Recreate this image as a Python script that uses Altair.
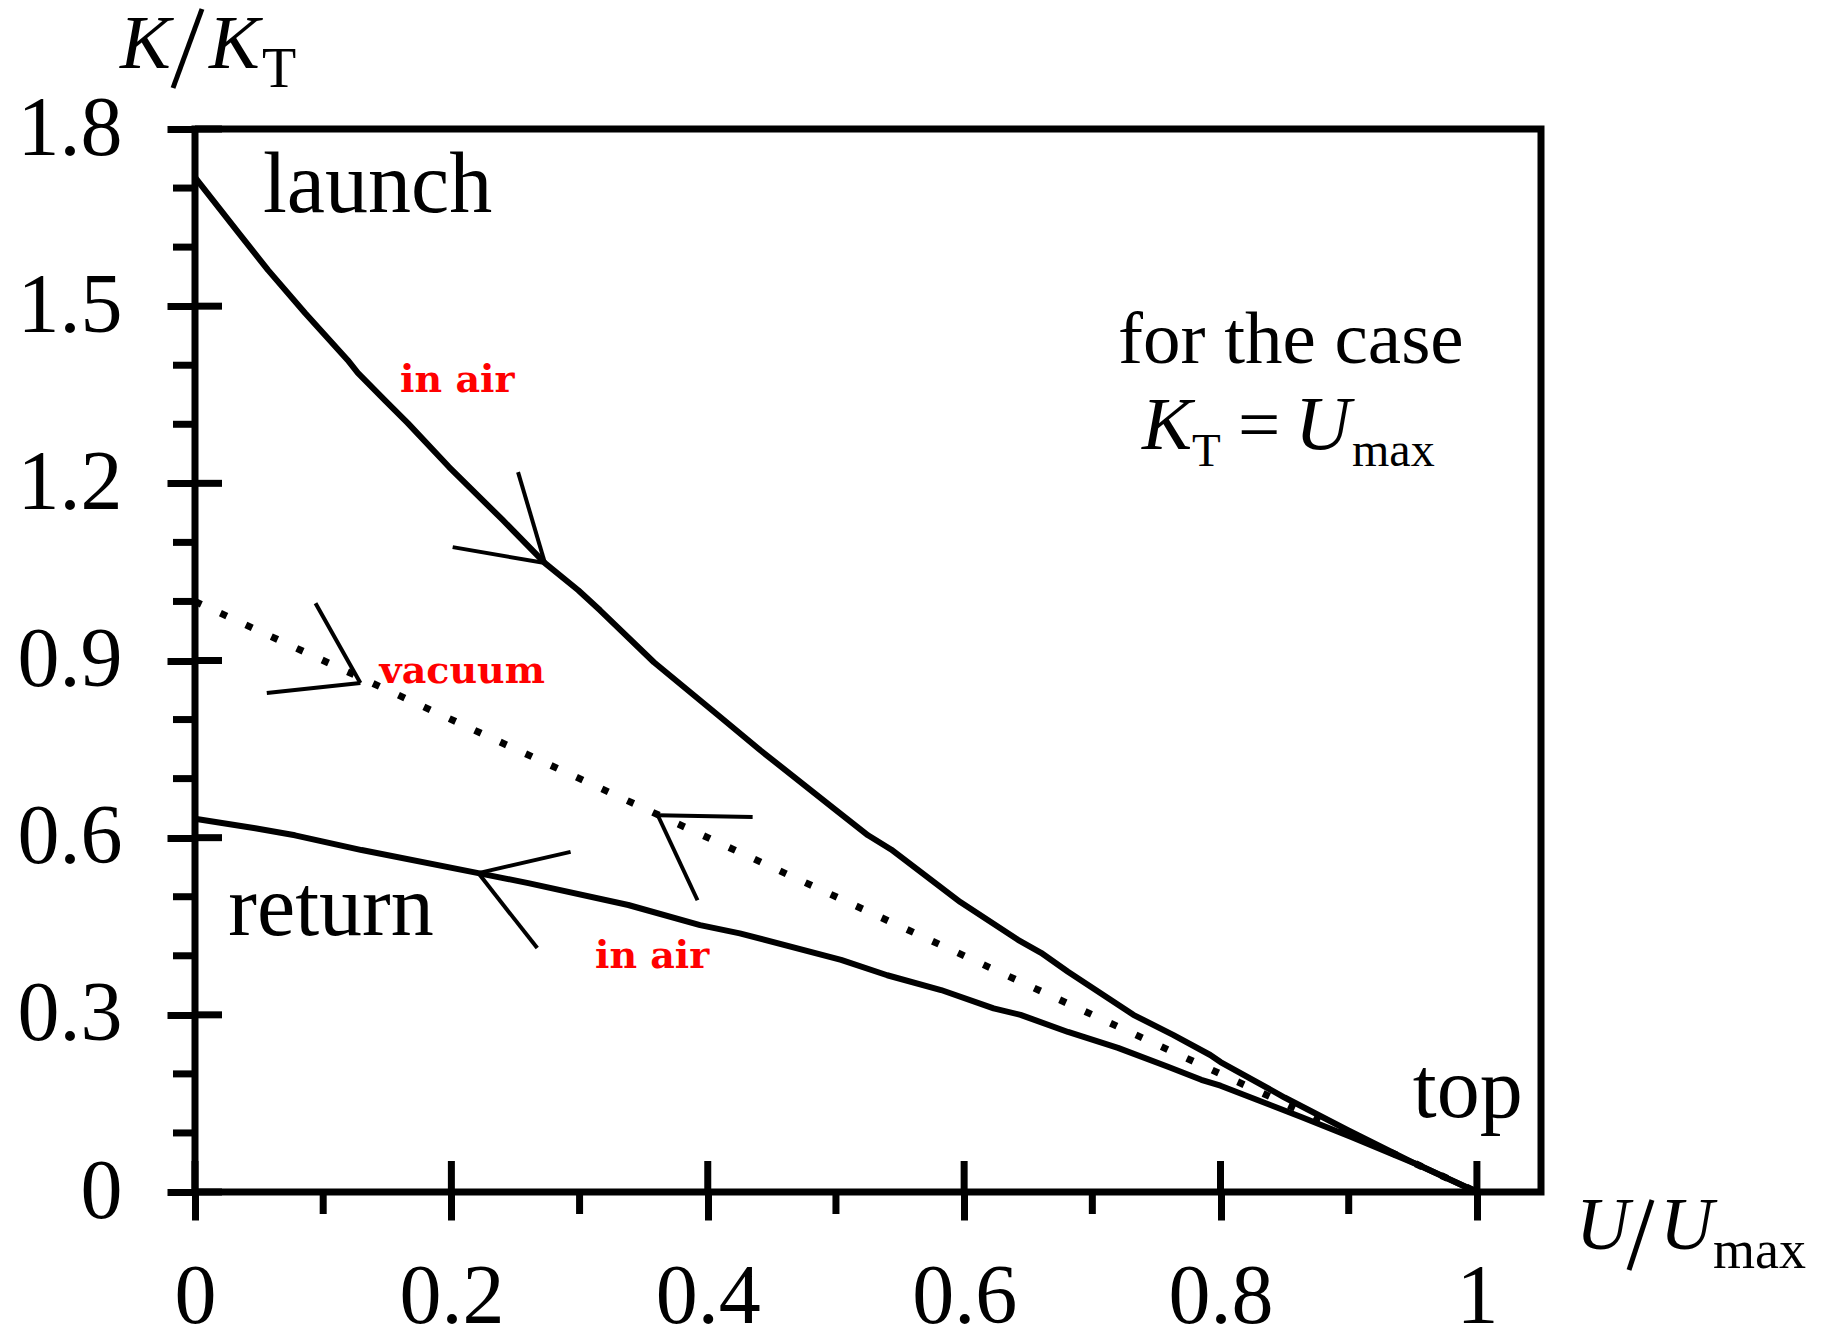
import altair as alt
import pandas as pd

# ---- data ----
launch_u = [0.0, 0.034, 0.057, 0.086, 0.119, 0.127, 0.148, 0.166, 0.198, 0.240, 0.273, 0.299,
            0.316, 0.358, 0.410, 0.441, 0.498, 0.525, 0.543, 0.597, 0.642, 0.660, 0.681, 0.732,
            0.763, 0.792, 0.800, 0.850, 0.899, 0.951, 1.0]
launch_k = [1.718, 1.624, 1.561, 1.488, 1.409, 1.387, 1.341, 1.302, 1.228, 1.138, 1.065, 1.019,
            0.985, 0.897, 0.804, 0.748, 0.650, 0.604, 0.580, 0.491, 0.427, 0.405, 0.373, 0.300,
            0.266, 0.232, 0.220, 0.160, 0.105, 0.049, 0.0]

return_u = [0.0, 0.047, 0.078, 0.130, 0.221, 0.260, 0.338, 0.394, 0.425, 0.504, 0.540, 0.582,
            0.623, 0.644, 0.681, 0.720, 0.759, 0.785, 0.800, 0.863, 0.902, 0.954, 1.0]
return_k = [0.632, 0.616, 0.604, 0.579, 0.540, 0.523, 0.486, 0.452, 0.438, 0.393, 0.367, 0.342,
            0.311, 0.300, 0.271, 0.244, 0.212, 0.190, 0.180, 0.127, 0.093, 0.046, 0.0]

vacuum_u = [0.0, 1.0]
vacuum_k = [1.0, 0.0]

# arrow heads: tip -> end of each barb
arrow_x1 = [0.273, 0.273, 0.129, 0.129, 0.361, 0.361, 0.221, 0.221]
arrow_y1 = [1.065, 1.065, 0.862, 0.862, 0.638, 0.638, 0.540, 0.540]
arrow_x2 = [0.252, 0.201, 0.094, 0.056, 0.435, 0.392, 0.293, 0.267]
arrow_y2 = [1.219, 1.092, 0.997, 0.845, 0.635, 0.494, 0.576, 0.413]

x_major = [0, 0.2, 0.4, 0.6, 0.8, 1.0]
x_minor = [0.1, 0.3, 0.5, 0.7, 0.9]
y_major = [0, 0.3, 0.6, 0.9, 1.2, 1.5, 1.8]
y_minor = [0.1, 0.2, 0.4, 0.5, 0.7, 0.8, 1.0, 1.1, 1.3, 1.4, 1.6, 1.7]

black_labels = ["launch", "return", "top"]
black_label_u = [0.053, 0.026, 0.950]
black_label_k = [1.659, 0.435, 0.127]

red_labels = ["in air", "vacuum", "in air"]
red_label_u = [0.160, 0.144, 0.312]
red_label_k = [1.355, 0.862, 0.379]

W, H = 1346, 1063
SERIF = "Liberation Serif"
RED_FONT = "DejaVu Serif"

xs = alt.Scale(domain=[0, 1.05], nice=False, zero=False)
ys = alt.Scale(domain=[0, 1.8], nice=False, zero=False)

x_axis = alt.Axis(values=x_major, format="~g", labelFont=SERIF, labelFontSize=84,
                  labelColor="black", tickColor="black", tickWidth=7, tickSize=28,
                  domain=False, grid=False, title=None, labelPadding=102,
                  labelBaseline="alphabetic", labelFlush=False, labelOverlap=False)
y_axis = alt.Axis(values=y_major, format="~g", labelFont=SERIF, labelFontSize=84,
                  labelColor="black", tickColor="black", tickWidth=7, tickSize=28,
                  domain=False, grid=False, title=None, labelPadding=45,
                  labelBaseline="middle", labelFlush=False, labelOverlap=False)

launch_df = pd.DataFrame({"u": launch_u, "k": launch_k})
return_df = pd.DataFrame({"u": return_u, "k": return_k})
vac_df = pd.DataFrame({"u": vacuum_u, "k": vacuum_k})

launch = alt.Chart(launch_df).mark_line(color="black", strokeWidth=6, strokeJoin="round").encode(
    x=alt.X("u:Q", scale=xs, axis=x_axis), y=alt.Y("k:Q", scale=ys, axis=y_axis), order="u:Q")
ret = alt.Chart(return_df).mark_line(color="black", strokeWidth=6, strokeJoin="round").encode(
    x=alt.X("u:Q", scale=xs), y=alt.Y("k:Q", scale=ys), order="u:Q")
vac = alt.Chart(vac_df).mark_line(color="black", strokeWidth=7, strokeDash=[7, 21],
                                  strokeCap="butt").encode(
    x=alt.X("u:Q", scale=xs), y=alt.Y("k:Q", scale=ys))

arrows = alt.Chart(pd.DataFrame({"x1": arrow_x1, "y1": arrow_y1, "x2": arrow_x2, "y2": arrow_y2})
                   ).mark_rule(color="black", strokeWidth=4).encode(
    x=alt.X("x1:Q", scale=xs), y=alt.Y("y1:Q", scale=ys), x2="x2:Q", y2="y2:Q")

# frame (left/bottom axes plus top/right box)
frame = alt.Chart(pd.DataFrame({"a": [0]})).mark_rect(
    fill=None, stroke="black", strokeWidth=7).encode(
    x=alt.value(0), x2=alt.value(W), y=alt.value(0), y2=alt.value(H))

# inner parts of major ticks and minor ticks
y_major_in = alt.Chart(pd.DataFrame({"v": y_major})).mark_rule(color="black", strokeWidth=7).encode(
    y=alt.Y("v:Q", scale=ys), x=alt.value(0), x2=alt.value(27))
y_minor_t = alt.Chart(pd.DataFrame({"v": y_minor})).mark_rule(color="black", strokeWidth=7).encode(
    y=alt.Y("v:Q", scale=ys), x=alt.value(-22), x2=alt.value(0))
x_major_in = alt.Chart(pd.DataFrame({"v": x_major})).mark_rule(color="black", strokeWidth=7).encode(
    x=alt.X("v:Q", scale=xs), y=alt.value(H - 31), y2=alt.value(H))
x_minor_t = alt.Chart(pd.DataFrame({"v": x_minor})).mark_rule(color="black", strokeWidth=7).encode(
    x=alt.X("v:Q", scale=xs), y=alt.value(H), y2=alt.value(H + 22))

black_txt = alt.Chart(pd.DataFrame({"t": black_labels, "u": black_label_u, "k": black_label_k})
                      ).mark_text(font=SERIF, fontSize=86, align="left", baseline="alphabetic",
                                  color="black").encode(
    x=alt.X("u:Q", scale=xs), y=alt.Y("k:Q", scale=ys), text="t:N")
red_txt = alt.Chart(pd.DataFrame({"t": red_labels, "u": red_label_u, "k": red_label_k})
                    ).mark_text(font=RED_FONT, fontSize=38, fontWeight="bold", align="left",
                                baseline="alphabetic", color="#ff0000").encode(
    x=alt.X("u:Q", scale=xs), y=alt.Y("k:Q", scale=ys), text="t:N")


def txt(s, x, y, size, italic=False, color="black", font=SERIF):
    kw = dict(font=font, fontSize=size, align="left", baseline="alphabetic", color=color)
    if italic:
        kw["fontStyle"] = "italic"
    return alt.Chart(pd.DataFrame({"t": [s]})).mark_text(**kw).encode(
        x=alt.value(x), y=alt.value(y), text="t:N")


def slash(x1, y1, x2, y2, w=5):
    return alt.Chart(pd.DataFrame({"a": [0]})).mark_rule(color="black", strokeWidth=w).encode(
        x=alt.value(x1), y=alt.value(y1), x2=alt.value(x2), y2=alt.value(y2))


# annotation "for the case  K_T = U_max" (pixel offsets relative to plot origin)
ox, oy = 195, 129
note = [
    txt("for the case", 1118 - ox, 363 - oy, 75),
    txt("K", 1142 - ox, 449 - oy, 75, italic=True),
    txt("T", 1192 - ox, 466 - oy, 47),
    txt("=", 1238 - ox, 449 - oy, 75),
    txt("U", 1295 - ox, 449 - oy, 77, italic=True),
    txt("max", 1352 - ox, 466 - oy, 48),
]

# axis titles
ytitle = [
    txt("K", 120 - ox, 68 - oy, 76, italic=True),
    slash(173 - ox, 88 - oy, 202 - ox, 9 - oy),
    txt("K", 209 - ox, 68 - oy, 76, italic=True),
    txt("T", 262 - ox, 87 - oy, 56),
]
xtitle = [
    txt("U", 1576 - ox, 1249 - oy, 74, italic=True),
    slash(1629 - ox, 1270 - oy, 1652 - ox, 1200 - oy),
    txt("U", 1660 - ox, 1249 - oy, 74, italic=True),
    txt("max", 1713 - ox, 1268 - oy, 54),
]

chart = alt.layer(
    frame, launch, ret, vac, arrows, y_major_in, y_minor_t, x_major_in, x_minor_t,
    black_txt, red_txt, *note, *ytitle, *xtitle
).properties(
    width=W, height=H,
    padding={"left": 187, "top": 121, "right": 270, "bottom": 133},
    autosize=alt.AutoSizeParams(type="none"),
).configure(background="white").configure_view(stroke=None)

chart.save("out.html", embed_options={"renderer": "svg", "actions": False})
